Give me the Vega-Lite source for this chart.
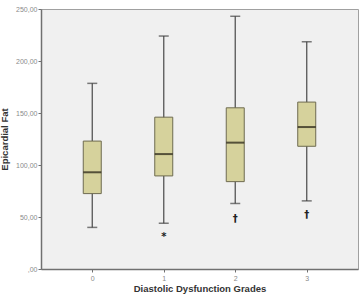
{
  "$schema": "https://vega.github.io/schema/vega-lite/v6.json",
  "width": 317,
  "height": 260,
  "autosize": {"type": "none"},
  "padding": {"left": 41, "top": 9, "right": 3, "bottom": 27},
  "background": "#ffffff",
  "config": {
    "view": {"fill": "#f0f0f0", "stroke": "#a0a0a0", "strokeWidth": 1},
    "font": "Open Sans",
    "axis": {"grid": false, "domainColor": "#707070", "domainWidth": 1.5, "tickColor": "#707070", "labelColor": "#8a8a8a", "labelFont": "Liberation Sans", "labelFontSize": 7, "titleFont": "Liberation Sans", "titleFontWeight": "bold", "titleColor": "#333333", "titleFontSize": 9.5, "tickSize": 3}
  },
  "datasets": {
    "boxes": [
      {"grade": "0", "lo": 40, "q1": 72.5, "med": 93, "q3": 123, "hi": 178.5},
      {"grade": "1", "lo": 44, "q1": 89.5, "med": 110.5, "q3": 146, "hi": 224},
      {"grade": "2", "lo": 63, "q1": 84, "med": 121.5, "q3": 155, "hi": 243},
      {"grade": "3", "lo": 65.5, "q1": 118, "med": 136.5, "q3": 160.5, "hi": 218.5}
    ],
    "outliers": [
      {"grade": "1", "value": 30.5, "sym": "*"},
      {"grade": "2", "value": 48.5, "sym": "†"},
      {"grade": "3", "value": 51.5, "sym": "†"}
    ]
  },
  "encoding": {
    "x": {"field": "grade", "type": "nominal", "scale": {"type": "point", "padding": 0.717, "domain": ["0", "1", "2", "3"]},
      "axis": {"title": "Diastolic Dysfunction Grades", "labelAngle": 0, "titlePadding": 2, "labelPadding": 2}}
  },
  "layer": [
    {
      "data": {"name": "boxes"},
      "mark": {"type": "rule", "color": "#555555", "strokeWidth": 1.3},
      "encoding": {
        "y": {"field": "lo", "type": "quantitative", "scale": {"domain": [0, 250], "nice": false},
          "axis": {"title": "Epicardial Fat", "values": [0, 50, 100, 150, 200, 250], "labelExpr": "datum.value == 0 ? ',00' : datum.value + ',00'", "titlePadding": 6, "labelPadding": 1}},
        "y2": {"field": "hi"}
      }
    },
    {
      "data": {"name": "boxes"},
      "mark": {"type": "tick", "color": "#444444", "size": 10, "thickness": 1.5},
      "encoding": {"y": {"field": "lo", "type": "quantitative"}}
    },
    {
      "data": {"name": "boxes"},
      "mark": {"type": "tick", "color": "#444444", "size": 10, "thickness": 1.5},
      "encoding": {"y": {"field": "hi", "type": "quantitative"}}
    },
    {
      "data": {"name": "boxes"},
      "mark": {"type": "bar", "size": 18, "fill": "#d6d29c", "stroke": "#6e6b50", "strokeWidth": 1},
      "encoding": {"y": {"field": "q1", "type": "quantitative"}, "y2": {"field": "q3"}}
    },
    {
      "data": {"name": "boxes"},
      "mark": {"type": "tick", "color": "#1e1a10", "size": 18, "thickness": 2},
      "encoding": {"y": {"field": "med", "type": "quantitative"}}
    },
    {
      "data": {"name": "outliers"},
      "mark": {"type": "text", "font": "DejaVu Sans", "fontSize": 10, "fontWeight": "bold", "color": "#222222", "baseline": "middle"},
      "encoding": {"y": {"field": "value", "type": "quantitative"}, "text": {"field": "sym"}}
    }
  ]
}
